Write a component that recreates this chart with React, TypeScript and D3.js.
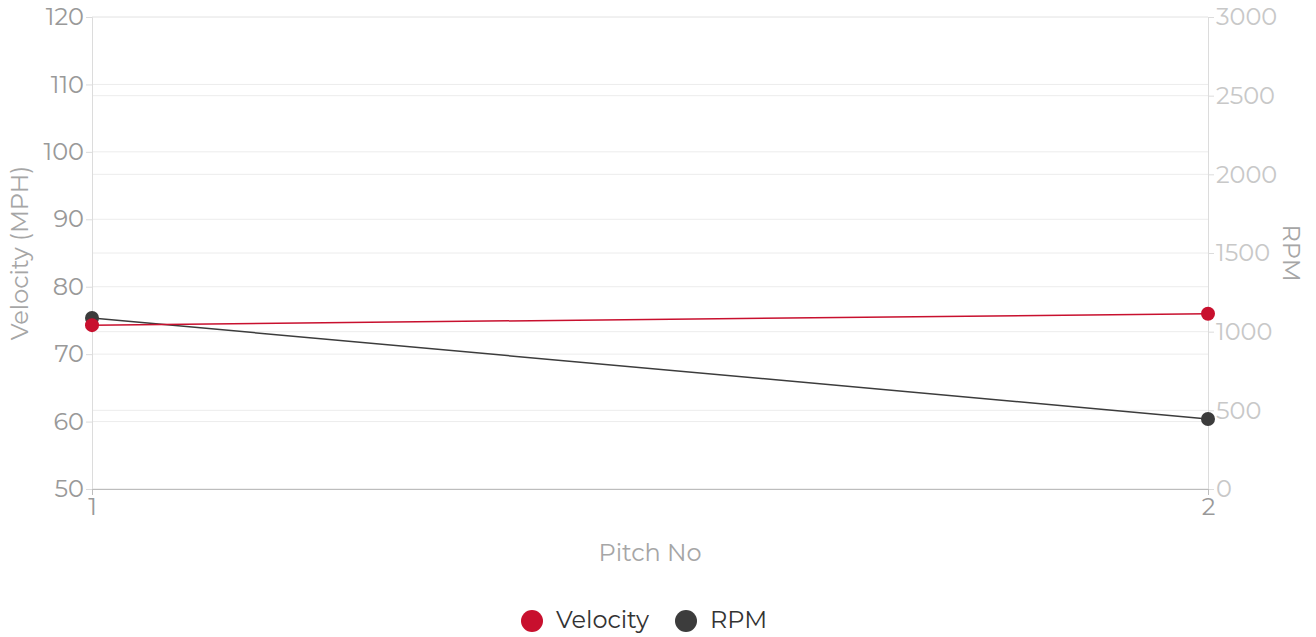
import React, { useRef, useEffect } from "react";
import { select, scaleLinear, axisLeft, axisRight, axisBottom, line } from "d3";

const pitchNo = [1, 2];
const velocity = [74.3, 76.0];
const rpm = [1087, 445];
const velocityTicks = [50, 60, 70, 80, 90, 100, 110, 120];
const rpmTicks = [0, 500, 1000, 1500, 2000, 2500, 3000];

const W = 1316;
const H = 637;
const margin = { top: 17, right: 108, bottom: 148, left: 92 };
const FONT = "Montserrat, 'Noto Sans', sans-serif";
const FS = "24px";

const App: React.FC = () => {
  const svgRef = useRef<SVGSVGElement>(null);

  useEffect(() => {
    const svg = select(svgRef.current!);
    svg.selectAll("*").remove();

    const x0 = margin.left;
    const x1 = W - margin.right;
    const y0 = H - margin.bottom;
    const y1 = margin.top;

    const x = scaleLinear().domain([1, 2]).range([x0, x1]);
    const yV = scaleLinear().domain([50, 120]).range([y0, y1]);
    const yR = scaleLinear().domain([0, 3000]).range([y0, y1]);

    // gridlines for both axes
    const grid = svg.append("g");
    grid
      .selectAll(".gv")
      .data(velocityTicks)
      .join("line")
      .attr("x1", x0)
      .attr("x2", x1)
      .attr("y1", (d) => yV(d))
      .attr("y2", (d) => yV(d))
      .attr("stroke", "#ececec");
    grid
      .selectAll(".gr")
      .data(rpmTicks)
      .join("line")
      .attr("x1", x0)
      .attr("x2", x1)
      .attr("y1", (d) => yR(d))
      .attr("y2", (d) => yR(d))
      .attr("stroke", "#ececec");

    // left axis
    const left = svg
      .append("g")
      .attr("transform", `translate(${x0},0)`)
      .call(axisLeft(yV).tickValues(velocityTicks).tickSize(6).tickPadding(2));
    left.select(".domain").attr("stroke", "#dcdcdc");
    left.selectAll(".tick line").attr("stroke", "#dcdcdc");
    left
      .selectAll("text")
      .attr("fill", "#999")
      .style("font-size", FS)
      .style("font-family", FONT);

    // right axis
    const right = svg
      .append("g")
      .attr("transform", `translate(${x1},0)`)
      .call(axisRight(yR).tickValues(rpmTicks).tickFormat((d) => String(d)).tickSize(6).tickPadding(2));
    right.select(".domain").attr("stroke", "#dcdcdc");
    right.selectAll(".tick line").attr("stroke", "#dcdcdc");
    right
      .selectAll("text")
      .attr("fill", "#c8c8c8")
      .style("font-size", FS)
      .style("font-family", FONT);

    // bottom axis
    const bottom = svg
      .append("g")
      .attr("transform", `translate(0,${y0})`)
      .call(axisBottom(x).tickValues(pitchNo).tickFormat((d) => String(d)).tickSize(6).tickPadding(3));
    bottom.select(".domain").attr("stroke", "#bdbdbd");
    bottom.selectAll(".tick line").attr("stroke", "#bdbdbd");
    bottom
      .selectAll("text")
      .attr("fill", "#999")
      .style("font-size", FS)
      .style("font-family", FONT);

    // series
    const drawSeries = (vals: number[], y: typeof yV, color: string) => {
      const pts = pitchNo.map((p, i) => [p, vals[i]] as [number, number]);
      svg
        .append("path")
        .datum(pts)
        .attr("fill", "none")
        .attr("stroke", color)
        .attr("stroke-width", 1.5)
        .attr(
          "d",
          line<[number, number]>()
            .x((d) => x(d[0]))
            .y((d) => y(d[1]))
        );
      svg
        .append("g")
        .selectAll("circle")
        .data(pts)
        .join("circle")
        .attr("cx", (d) => x(d[0]))
        .attr("cy", (d) => y(d[1]))
        .attr("r", 7)
        .attr("fill", color);
    };
    drawSeries(rpm, yR, "#3c3c3c");
    drawSeries(velocity, yV, "#c8102e");

    // axis titles
    svg
      .append("text")
      .attr("transform", `translate(28,${(y0 + y1) / 2}) rotate(-90)`)
      .attr("text-anchor", "middle")
      .attr("fill", "#a6a6a6")
      .style("font-size", FS)
      .style("font-family", FONT)
      .text("Velocity (MPH)");
    svg
      .append("text")
      .attr("transform", `translate(1283,${(y0 + y1) / 2}) rotate(90)`)
      .attr("text-anchor", "middle")
      .attr("fill", "#a6a6a6")
      .style("font-size", FS)
      .style("font-family", FONT)
      .text("RPM");
    svg
      .append("text")
      .attr("x", (x0 + x1) / 2)
      .attr("y", 561)
      .attr("text-anchor", "middle")
      .attr("fill", "#a6a6a6")
      .style("font-size", FS)
      .style("font-family", FONT)
      .text("Pitch No");

    // legend
    const legend = [
      { name: "Velocity", color: "#c8102e", cx: 532 },
      { name: "RPM", color: "#3c3c3c", cx: 686 },
    ];
    const lg = svg.append("g");
    legend.forEach((l) => {
      lg.append("circle").attr("cx", l.cx).attr("cy", 621).attr("r", 11).attr("fill", l.color);
      lg.append("text")
        .attr("x", l.cx + 24)
        .attr("y", 628)
        .attr("fill", "#333")
        .style("font-size", FS)
        .style("font-family", FONT)
        .text(l.name);
    });
  }, []);

  return (
    <svg
      ref={svgRef}
      width={W}
      height={H}
      style={{ position: "absolute", left: 0, top: 0, background: "#fff" }}
    />
  );
};

export default App;
